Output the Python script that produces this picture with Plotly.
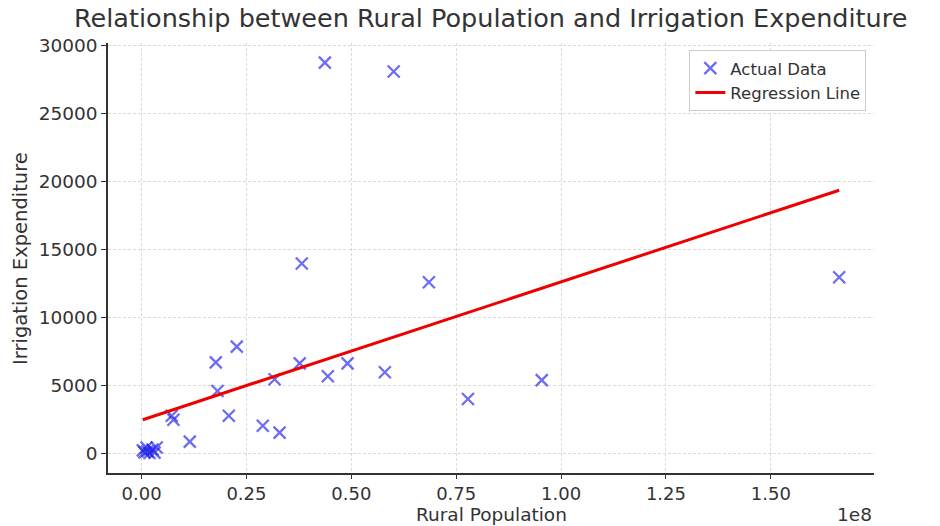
import plotly.graph_objects as go

# Data
rural_population = [
    43.7e6, 60.1e6, 38.2e6, 68.5e6, 166.3e6, 22.7e6, 17.7e6, 37.7e6, 49.1e6,
    58.0e6, 44.4e6, 31.7e6, 95.4e6, 18.1e6, 77.8e6, 7.2e6, 7.6e6, 20.8e6,
    28.9e6, 32.9e6, 11.5e6,
    0.3e6, 1.2e6, 1.9e6, 2.6e6, 3.6e6, 0.7e6, 3.1e6, 1.4e6,
]
irrigation_expenditure = [
    28750, 28090, 13970, 12590, 12960, 7860, 6700, 6620, 6620,
    5970, 5680, 5460, 5390, 4590, 4000, 2770, 2480, 2770,
    2040, 1530, 870,
    220, 440, 30, 290, 440, 80, 60, 150,
]
regression_x = [min(rural_population), max(rural_population)]
regression_y = [2480, 19360]

x_tick_vals = [0, 25e6, 50e6, 75e6, 100e6, 125e6, 150e6]
x_tick_text = ["0.00", "0.25", "0.50", "0.75", "1.00", "1.25", "1.50"]
y_tick_vals = [0, 5000, 10000, 15000, 20000, 25000, 30000]

font_family = "DejaVu Sans"
text_color = "#333333"
marker_color = "rgba(30,30,235,0.65)"

fig = go.Figure()
fig.add_trace(go.Scatter(
    x=rural_population, y=irrigation_expenditure, mode="markers",
    name="Actual Data",
    marker=dict(symbol="x-thin", size=12, color=marker_color,
                line=dict(width=2.3, color=marker_color)),
))
fig.add_trace(go.Scatter(
    x=regression_x, y=regression_y, mode="lines", name="Regression Line",
    line=dict(color="#ee0000", width=3),
))

fig.update_layout(
    width=940, height=526,
    margin=dict(l=108, r=66, t=43, b=53),
    paper_bgcolor="white", plot_bgcolor="white",
    font=dict(family=font_family, color=text_color, size=19),
    title=dict(text="Relationship between Rural Population and Irrigation Expenditure",
               x=0.522, xanchor="center", y=0.966, yanchor="middle",
               font=dict(size=25.5, color=text_color)),
    showlegend=True,
    legend=dict(x=0.99, y=0.984, xanchor="right", yanchor="top",
                bgcolor="white", bordercolor="#cccccc", borderwidth=1,
                font=dict(size=16.5, color=text_color)),
    xaxis=dict(
        range=[-8.0e6, 174.6e6],
        tickvals=x_tick_vals, ticktext=x_tick_text,
        showline=True, linecolor="#333333", linewidth=1.5,
        ticks="outside", ticklen=4, tickcolor="#333333",
        showgrid=True, gridcolor="#dadada", griddash="3px,2px", gridwidth=1,
        zeroline=False, automargin=False,
        tickfont=dict(size=18),
    ),
    yaxis=dict(
        range=[-1440, 30190],
        tickvals=y_tick_vals, tickformat="d",
        showline=True, linecolor="#333333", linewidth=1.5,
        ticks="outside", ticklen=5, tickcolor="#333333",
        showgrid=True, gridcolor="#dadada", griddash="3px,2px", gridwidth=1,
        zeroline=False, automargin=False,
        tickfont=dict(size=18.5),
    ),
)
# Axis titles and offset text (positioned in pixels below the plot area)
fig.add_annotation(text="Rural Population", xref="paper", yref="paper",
                   x=0.5, y=0, yshift=-41, xanchor="center", yanchor="middle",
                   showarrow=False, font=dict(size=18.5, color=text_color))
fig.add_annotation(text="Irrigation Expenditure", xref="paper", yref="paper",
                   x=-0.115, y=0.5, xanchor="center", yanchor="middle",
                   textangle=-90, showarrow=False,
                   font=dict(size=19.5, color=text_color))
fig.add_annotation(text="1e8", xref="paper", yref="paper", x=1.0, y=0,
                   yshift=-41, xanchor="right", yanchor="middle",
                   showarrow=False, font=dict(size=18.5, color=text_color))

fig.write_html("out.html")
